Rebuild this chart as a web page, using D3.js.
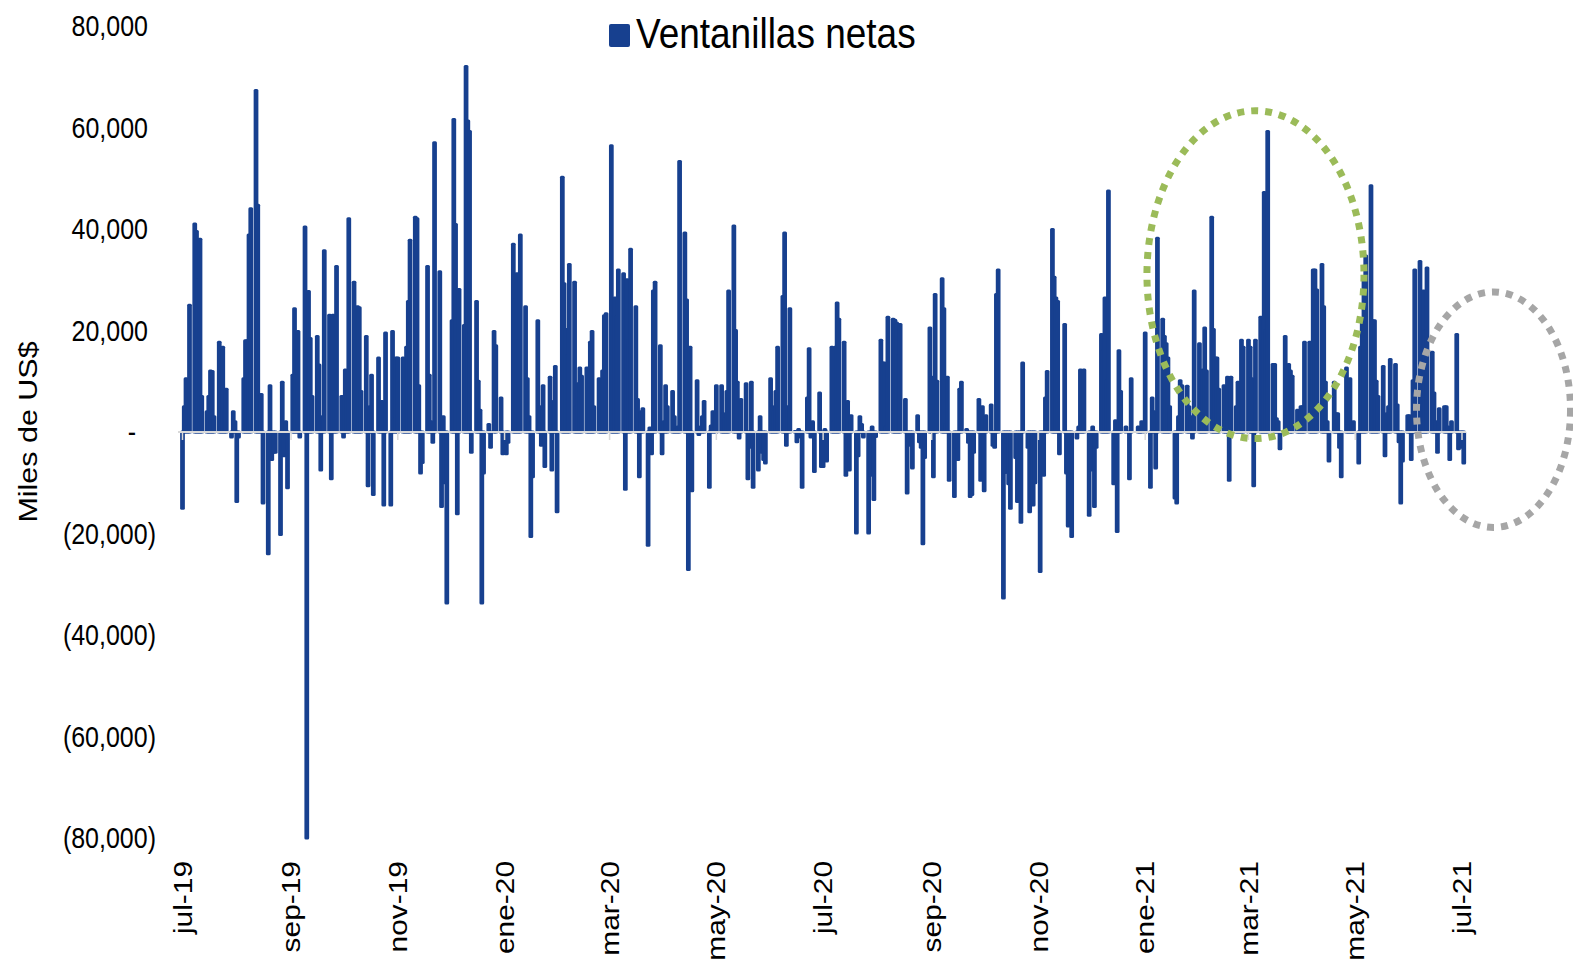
<!DOCTYPE html>
<html>
<head>
<meta charset="utf-8">
<script src="https://cdn.jsdelivr.net/npm/d3@7"></script>
<style>
  body { margin: 0; background: #fff; }
  text { font-family: "Liberation Sans", Arial, sans-serif; fill: #000; }
</style>
</head>
<body>
<div id="chart"></div>
<script>
// Ventanillas netas, miles de US$ (valores en miles: 67.3 = 67,300)
// one row per month, one value per business day (Mon-Fri)
const months = [
  '2019-07', '2019-08', '2019-09', '2019-10', '2019-11', '2019-12',
  '2020-01', '2020-02', '2020-03', '2020-04', '2020-05', '2020-06',
  '2020-07', '2020-08', '2020-09', '2020-10', '2020-11', '2020-12',
  '2021-01', '2021-02', '2021-03', '2021-04', '2021-05', '2021-06',
  '2021-07',
];
const netas = [
  [-15, 5, 10.5, 1, 25, 41, 39.5, 30, 38, 7, 4, 7, 12, 11.9, 3, 17.7, 13, 16.7, 4, 8.4, -1, 4, 2],
  [-13.7, -1, 10.5, 18, 18, 38.8, 44, 67.3, 44.7, 7, 7.4, -14, -24, 9.1, -5.4, -4, -4, -20.2, 9.8, -4.7, 2, -11],
  [11.2, 24.3, 16, 19.8, -1, 40.4, -80, 27.7, 18.4, 7, 18.8, 13.2, -7.5, 3, 35.7, 23, -9.2, 23, 8, 32.6, 7],
  [-1, 12.2, 7, 42, 29.5, 18, 24.7, 24.5, 8, 18.8, -10.6, 5, 11.2, -12.3, 14.6, 1, 6, -14.4, 19.5, -14.4, 19.8, 2.5, 14.6],
  [14.6, 14.6, 14, 16.7, 25.7, 37.8, 42.3, 42, 9.1, -8.1, -6, 32.6, 11.2, 2, -2, 57, 31.6, -14.7, 3, -10, -33.7],
  [21.9, 61.6, 40.9, -16.1, 28.1, 21, 72, 61.3, 59.2, -4, 25.7, 10, 4.3, -33.7, -8.1, 1.5, -3, 0, 19.8, 17, 6.7, -4.3],
  [0, -4.3, -2, 37, 26, 31.2, 18, 38.8, 24.7, 10.5, 3, -20.6, -8.8, 21.9, 5, -2.6, 9.1, -6.8, 10.8, -7.5, 6, 12.9, -15.7],
  [50.2, 29.2, 20.2, 15, 33, 29.5, 5, 9.5, 12.6, 11, 12.6, 8, 17.7, 19.8, 5, 10.5, 8, 12, 22.9, 23.3],
  [56.4, 22.6, 26.4, 22.6, 31.9, 31.2, -11.3, 30, 18, 36, 24.7, 6.4, -8.8, 4, 4.6, -22.3, 0.8, -4.3, 27.8, 29.5, 17, -4.3],
  [2, 9.1, 5, 8, 3, 0.5, 1, 53.3, 39.2, 26, -27.1, 16.7, -11.6, 10.1, -0.5, 1, 3, 6, -10.9, 1.2, 4, 2],
  [9.1, 9.1, 3.6, 2.6, 8, 27.8, 40.6, 20, 9.8, -1.2, 6.4, 9.5, -9.2, -3, 9.8, -10.9, -7.5, 3, -4, -5.4, -6.1],
  [10.5, 5, 4, 8, 16.7, 26.7, 39.2, -2.6, 5, 24.3, 0.1, -1.9, 0.5, -1, -10.9, 6.7, 16.4, -1, 2, -7.8, 7.7, -6.8],
  [-6.8, 0.5, -5.7, 16.7, 1.9, 16.7, 25.4, 22.2, 17.7, -8.5, 6, -7.5, 3.2, -19.9, -4.7, 3, 1.5, -1, -19.9, -8.5, 1, -13.3, -0.9],
  [18.1, 13.6, 13.6, 1, 22.6, 22.2, 22, 21.5, 15, 21.2, 6.4, -12, -1, -2.6, -7.1, 3.2, -1.9, -3, -22, -5, 20.5],
  [10.8, -8.8, 27.1, 10, 30.2, 24.3, 1.5, 10.8, -9.5, -12.7, -3, -5.4, 8.4, 9.8, 0.5, -2, -12.7, -12.3, -4, 6.4, -9.5, 5],
  [-11.6, 3.2, 5.3, -2.6, -3, 27.1, 31.9, -32.7, -8, -2, -10.2, -15, -5, -13.7, -8, -17.8, 13.6, -3, -15.7, -6, -14.4, -10],
  [-27.5, -8.1, -8.5, 6.7, 11.9, 39.9, 30.5, 26.4, 25.7, -4.3, 21.2, -8.1, -18.5, -4, -20.6, -1.2, 1, 12.2, 3, 12.2, -16.4],
  [-7.5, 1, -14.7, -3, 19.2, 16, 26.4, 10, 47.5, -10.2, 2.2, -19.6, 16, 8, 1, 0, -9.2, 10.5, 0, 1, 0.5, 2, 0],
  [19.5, -10.9, 6.7, 4, -7.1, 38.2, 22.2, 18.8, 17.4, 14.6, 5, -13, -14, 3, 10.1, 9.1, 9, 5, 3, -1.2, 27.8],
  [17.4, 10.1, 12.2, 20.5, 12, 42.3, 20.2, 14.6, 14.6, 8.4, 9.1, 5, 10.8, -9.5, 10.8, 5, 9.8, 6, 18.1, 16.7],
  [18.1, 16.7, 10.5, -10.6, 18.1, 22.6, 18, 47.2, 20, 59.2, 13.3, 13.3, 2.6, 2, -3.3, 18.8, 3, 13.3, 12, 11, 4.3, 1, 5],
  [5, 17.7, 17.7, 10, 31.9, 31.9, 28, 33, 24.7, 9.8, 2, -5.7, 9.8, 3.6, 3.6, -3, -8.8, 12.6, 4, 10.5, 1.5, 2],
  [-6.1, 16.7, 22.2, 30, 34.7, 48.5, 21.9, 21.9, 10, 7, 12.9, -4.7, 3.6, 5, 14.3, 13.3, 5.3, -1.9, -14, -5.7, 3.2],
  [3.2, -5.4, 10.1, 31.9, 33.6, 10, 27.8, 20, 32.3, 15.7, 7.7, 2, -4, 4.6, 5, 5, 1, -5.4, 2, 19.2, -3.3, -1.2],
  [-3, -6.1],
];

const yTicks = [80, 60, 40, 20, 0, -20, -40, -60, -80];
const xTicks = [
  '2019-07-01', '2019-09-01', '2019-11-01', '2020-01-01', '2020-03-01', '2020-05-01', '2020-07-01',
  '2020-09-01', '2020-11-01', '2021-01-01', '2021-03-01', '2021-05-01', '2021-07-01',
];
const xTickLabels = [
  'jul-19', 'sep-19', 'nov-19', 'ene-20', 'mar-20', 'may-20', 'jul-20',
  'sep-20', 'nov-20', 'ene-21', 'mar-21', 'may-21', 'jul-21',
];
const serieNombre = 'Ventanillas netas';
const ejeYNombre = 'Miles de US$';

// dotted ellipses marking periods (center date / value, half width in days, half height in value)
const circulos = [
  { centro: '2021-03-05', valor: 31, dias: 62, alto: 32.3, color: '#9bbb59' },
  { centro: '2021-07-19', valor: 4.4, dias: 44, alto: 23.2, color: '#a6a6a6' },
];

const width = 1573;
const height = 961;
const barColor = '#17408f';
const stretch = 1.15; // text in the reference is slightly taller than wide

const parseDay = d3.timeParse('%Y-%m-%d');

// set business days for each month
const data = [];
months.forEach((m, i) => {
  const start = parseDay(`${m}-01`);
  const days = d3.timeDays(start, d3.timeMonth.offset(start, 1))
    .filter(d => d.getDay() !== 0 && d.getDay() !== 6);
  netas[i].forEach((v, j) => {
    if (days[j]) data.push({ date: days[j], value: v });
  });
});

const x = d3.scaleTime()
  .domain([parseDay('2019-07-01'), parseDay('2021-07-01')])
  .range([182.5, 1462]);
const y = d3.scaleLinear()
  .domain([-80, 80])
  .range([838, 26]);

const svg = d3.select('#chart').append('svg')
  .attr('width', width)
  .attr('height', height);

// bars
const dayW = x(parseDay('2020-01-02')) - x(parseDay('2020-01-01'));
svg.append('g')
  .selectAll('rect')
  .data(data)
  .enter().append('rect')
  .attr('x', d => x(d.date) - dayW / 2)
  .attr('width', dayW)
  .attr('y', d => y(Math.max(0, d.value)))
  .attr('height', d => Math.abs(y(d.value) - y(0)))
  .attr('fill', barColor)
  .attr('stroke', barColor)
  .attr('stroke-width', 3)
  .attr('stroke-linejoin', 'round');

// zero axis line and ticks
const axisG = svg.append('g');
axisG.append('line')
  .attr('x1', 178)
  .attr('x2', 1466)
  .attr('y1', y(0))
  .attr('y2', y(0))
  .attr('stroke', '#d9d9d9')
  .attr('stroke-width', 2);
axisG.selectAll('.tick')
  .data(xTicks)
  .enter().append('line')
  .attr('class', 'tick')
  .attr('x1', d => x(parseDay(d)))
  .attr('x2', d => x(parseDay(d)))
  .attr('y1', y(0))
  .attr('y2', y(0) + 8)
  .attr('stroke', '#d9d9d9')
  .attr('stroke-width', 1.5);

// y tick labels (accounting format)
const fmt = d3.format(',');
const yLabelX = 148;
svg.append('g')
  .selectAll('text')
  .data(yTicks)
  .enter().append('text')
  .attr('transform', (d) => {
    const lx = d < 0 ? yLabelX + 8 : (d === 0 ? yLabelX - 12 : yLabelX);
    return `translate(${lx},${y(d)}) scale(1,${stretch})`;
  })
  .attr('dy', '.35em')
  .style('text-anchor', 'end')
  .style('font-size', '25px')
  .text((d) => {
    if (d === 0) return '-';
    if (d < 0) return `(${fmt(-d * 1000)})`;
    return fmt(d * 1000);
  });

// x tick labels
svg.append('g')
  .selectAll('text')
  .data(xTicks)
  .enter().append('text')
  .attr('transform', d => `translate(${x(parseDay(d))},861) scale(1,${stretch}) rotate(-90)`)
  .attr('dy', '.35em')
  .style('text-anchor', 'end')
  .style('font-size', '26px')
  .text((d, i) => xTickLabels[i]);

// y axis title
svg.append('text')
  .attr('transform', `translate(28,${y(0)}) scale(1,${stretch}) rotate(-90)`)
  .attr('dy', '.35em')
  .style('text-anchor', 'middle')
  .style('font-size', '26.5px')
  .text(ejeYNombre);

// legend
const legend = svg.append('g');
legend.append('rect')
  .attr('x', 609)
  .attr('y', 24)
  .attr('width', 21)
  .attr('height', 23)
  .attr('rx', 2)
  .attr('fill', barColor);
legend.append('text')
  .attr('transform', `translate(636,48) scale(1,${stretch})`)
  .style('font-size', '37px')
  .text(serieNombre);

// dotted ellipses
svg.append('g')
  .selectAll('ellipse')
  .data(circulos)
  .enter().append('ellipse')
  .attr('cx', d => x(parseDay(d.centro)))
  .attr('cy', d => y(d.valor))
  .attr('rx', d => x(d3.timeDay.offset(parseDay(d.centro), d.dias)) - x(parseDay(d.centro)))
  .attr('ry', d => y(0) - y(d.alto))
  .attr('fill', 'none')
  .attr('stroke', d => d.color)
  .attr('stroke-width', 7)
  .attr('stroke-dasharray', '7 7');
</script>
</body>
</html>
